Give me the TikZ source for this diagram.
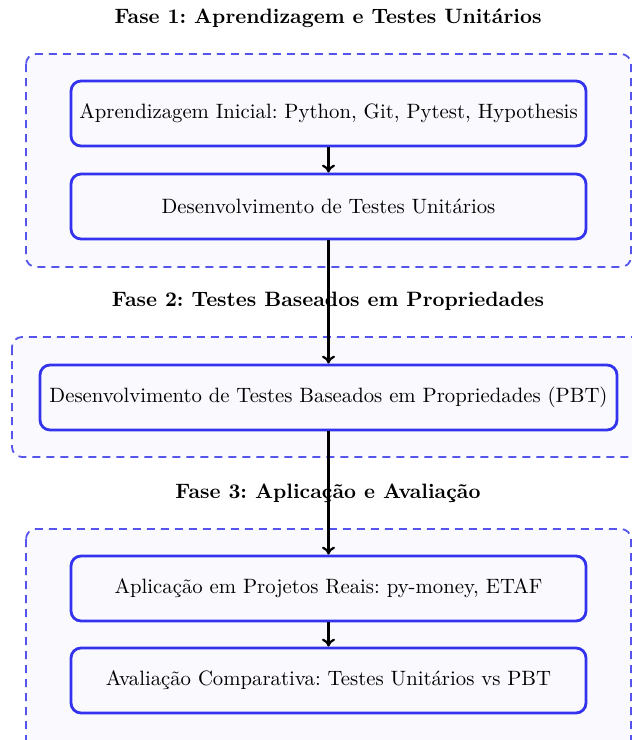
\documentclass[tikz,border=0pt]{standalone}
\usetikzlibrary{arrows.meta}
\definecolor{nodeblue}{HTML}{3333EE}
\definecolor{phaseblue}{HTML}{5555EE}
\definecolor{nodefill}{HTML}{FAFAFE}
\tikzset{
  stepbox/.style={draw=nodeblue, line width=1.4pt, rounded corners=5pt, fill=nodefill, minimum height=32.5pt, inner sep=0pt, font=\fontsize{10.37}{12.4}\selectfont},
  phasebox/.style={draw=phaseblue, dashed, dash pattern=on 4pt off 3pt, line width=0.9pt, rounded corners=5pt, fill=nodefill},
  phasetitle/.style={font=\bfseries\fontsize{10.4}{12.4}\selectfont},
  flow/.style={-{To[length=4pt,width=6.5pt]}, line width=1.1pt, black},
}
\begin{document}
\frenchspacing
\begin{tikzpicture}[x=0.5pt,y=-0.5pt]
\useasboundingbox (0,0) rectangle (632,740);
\clip (0,0) rectangle (632,740);
% phase boxes
\path[phasebox] (26,54) rectangle (631,267);
\path[phasebox] (12,337) rectangle (644,457);
\path[phasebox] (26,529) rectangle (631,770);
% titles
\node[phasetitle] (t1) at (328,18) {\frenchspacing Fase 1: Aprendizagem e Testes Unitários};
\node[phasetitle] (t2) at (328,301) {\frenchspacing Fase 2: Testes Baseados em Propriedades};
\node[phasetitle] (t3) at (328,493) {\frenchspacing Fase 3: Aplicação e Avaliação};
% nodes
\node[stepbox, minimum width=257.5pt] (a1) at (328.5,113.5) {\frenchspacing Aprendizagem Inicial: Python, Git, Pytest, Hypothesis};
\node[stepbox, minimum width=257.5pt] (a2) at (328.5,206.5) {Desenvolvimento de Testes Unitários};
\node[stepbox, minimum width=288.5pt] (b) at (328.5,397.5) {Desenvolvimento de Testes Baseados em Propriedades (PBT)};
\node[stepbox, minimum width=257.5pt] (c1) at (328.5,588.5) {\frenchspacing Aplicação em Projetos Reais: py-money, ETAF};
\node[stepbox, minimum width=257.5pt] (c2) at (328.5,680.5) {\frenchspacing Avaliação Comparativa: Testes Unitários vs PBT};
% connectors
\draw[flow] (a1) -- (a2);
\draw[flow] (a2) -- (b);
\draw[flow] (b) -- (c1);
\draw[flow] (c1) -- (c2);
\end{tikzpicture}
\end{document}
